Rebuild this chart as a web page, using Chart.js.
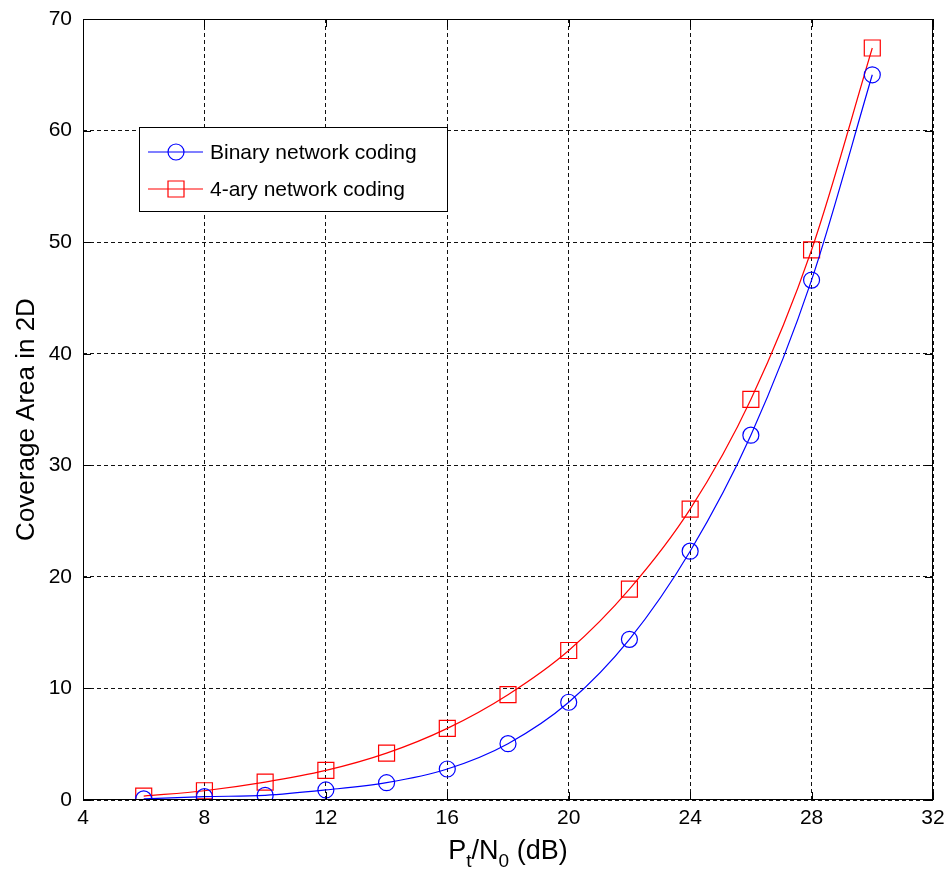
<!DOCTYPE html>
<html>
<head>
<meta charset="utf-8">
<script src="https://cdn.jsdelivr.net/npm/chart.js@4.4.0/dist/chart.umd.min.js"></script>
<style>
  html, body { margin: 0; padding: 0; background: #fff; }
  #wrap { width: 952px; height: 879px; }
</style>
</head>
<body>
<div id="wrap"><canvas id="coverageChart" width="952" height="879"></canvas></div>
<script>
var snrDb = [6, 8, 10, 12, 14, 16, 18, 20, 22, 24, 26, 28, 30];
var binaryArea = [0.1, 0.3, 0.42, 0.9, 1.55, 2.78, 5.05, 8.76, 14.4, 22.3, 32.7, 46.6, 65.0];
var quaternaryArea = [0.35, 0.83, 1.6, 2.65, 4.2, 6.42, 9.44, 13.4, 18.9, 26.07, 35.9, 49.3, 67.4];
var seriesNames = ['Binary network coding', '4-ary network coding'];
var xTicks = [4, 8, 12, 16, 20, 24, 28, 32];
var yTicks = [0, 10, 20, 30, 40, 50, 60, 70];
var yTitle = 'Coverage Area in 2D';

var FONT = '"Liberation Sans", Arial, sans-serif';

function toPoints(values) {
  return snrDb.map(function(x, i) { return { x: x, y: values[i] }; });
}

// frame, inward ticks, legend box and both axis titles
var matlabAxes = {
  id: 'matlabAxes',
  afterDraw: function(chart) {
    var ctx = chart.ctx;
    var a = chart.chartArea;
    var xs = chart.scales.x, ys = chart.scales.y;
    ctx.save();
    ctx.strokeStyle = '#000';
    ctx.lineWidth = 1;
    ctx.setLineDash([]);
    ctx.strokeRect(a.left + 0.5, a.top + 0.5, a.right - a.left - 1, a.bottom - a.top - 1);

    ctx.beginPath();
    xTicks.forEach(function(v) {
      var px = Math.round(xs.getPixelForValue(v)) + 0.5;
      ctx.moveTo(px, a.bottom); ctx.lineTo(px, a.bottom - 8);
      ctx.moveTo(px, a.top); ctx.lineTo(px, a.top + 8);
    });
    yTicks.forEach(function(v) {
      var py = Math.round(ys.getPixelForValue(v)) + 0.5;
      ctx.moveTo(a.left, py); ctx.lineTo(a.left + 8, py);
      ctx.moveTo(a.right, py); ctx.lineTo(a.right - 8, py);
    });
    ctx.stroke();

    // legend
    var lx = 139, ly = 127, lw = 308, lh = 84;
    ctx.fillStyle = '#fff';
    ctx.fillRect(lx, ly, lw, lh);
    ctx.strokeStyle = '#000';
    ctx.strokeRect(lx + 0.5, ly + 0.5, lw, lh);
    var rows = [
      { y: 152, color: '#0000ff', marker: 'circle' },
      { y: 189, color: '#ff0000', marker: 'square' }
    ];
    ctx.font = '21px ' + FONT;
    ctx.textBaseline = 'middle';
    ctx.textAlign = 'left';
    rows.forEach(function(r, i) {
      ctx.strokeStyle = r.color;
      ctx.lineWidth = 1.2;
      ctx.beginPath();
      ctx.moveTo(148, r.y); ctx.lineTo(203, r.y);
      ctx.stroke();
      ctx.beginPath();
      if (r.marker === 'circle') {
        ctx.arc(176, r.y, 8, 0, Math.PI * 2);
      } else {
        ctx.rect(168, r.y - 8, 16, 16);
      }
      ctx.stroke();
      ctx.fillStyle = '#000';
      ctx.fillText(seriesNames[i], 210, r.y + 1);
    });

    // y axis title
    ctx.save();
    ctx.translate(27, (a.top + a.bottom) / 2 + 10);
    ctx.rotate(-Math.PI / 2);
    ctx.textAlign = 'center';
    ctx.textBaseline = 'middle';
    ctx.font = '26px ' + FONT;
    ctx.fillStyle = '#000';
    ctx.fillText(yTitle, 0, 0);
    ctx.restore();

    // x axis title: P_t/N_0 (dB)
    var cx = (a.left + a.right) / 2, by = 859;
    var big = '27px ' + FONT, small = '19px ' + FONT;
    var parts = [
      { t: 'P', f: big, dy: 0 },
      { t: 't', f: small, dy: 8 },
      { t: '/N', f: big, dy: 0 },
      { t: '0', f: small, dy: 8 },
      { t: ' (dB)', f: big, dy: 0 }
    ];
    var total = 0;
    parts.forEach(function(p) { ctx.font = p.f; p.w = ctx.measureText(p.t).width; total += p.w; });
    var px = cx - total / 2;
    ctx.fillStyle = '#000';
    ctx.textAlign = 'left';
    ctx.textBaseline = 'alphabetic';
    parts.forEach(function(p) {
      ctx.font = p.f;
      ctx.fillText(p.t, px, by + p.dy);
      px += p.w;
    });
    ctx.restore();
  }
};

var ctx = document.getElementById('coverageChart');
new Chart(ctx, {
  type: 'line',
  data: {
    datasets: [{
      label: seriesNames[0],
      data: toPoints(binaryArea),
      borderColor: '#0000ff',
      borderWidth: 1.2,
      pointStyle: 'circle',
      pointRadius: 8,
      pointBorderWidth: 1.2,
      pointBorderColor: '#0000ff',
      pointBackgroundColor: 'rgba(0,0,0,0)',
      cubicInterpolationMode: 'monotone',
      fill: false
    }, {
      label: seriesNames[1],
      data: toPoints(quaternaryArea),
      borderColor: '#ff0000',
      borderWidth: 1.2,
      pointStyle: 'rect',
      pointRadius: 11.3,
      pointBorderWidth: 1.2,
      pointBorderColor: '#ff0000',
      pointBackgroundColor: 'rgba(0,0,0,0)',
      cubicInterpolationMode: 'monotone',
      fill: false
    }]
  },
  options: {
    responsive: false,
    animation: false,
    layout: { padding: { top: 19, right: 19, left: 0, bottom: 0 } },
    plugins: {
      legend: { display: false },
      tooltip: { enabled: false }
    },
    scales: {
      x: {
        type: 'linear',
        min: 4,
        max: 32,
        afterFit: function(scale) {
          scale.height = 79;
          scale.paddingLeft = 0;
          scale.paddingRight = 0;
        },
        afterBuildTicks: function(scale) {
          scale.ticks = xTicks.map(function(v) { return { value: v }; });
        },
        ticks: {
          color: '#000',
          font: { family: FONT, size: 21 },
          padding: 6,
          maxRotation: 0
        },
        grid: {
          color: '#111',
          lineWidth: 1,
          drawTicks: false
        },
        border: { display: false, dash: [4, 3] }
      },
      y: {
        type: 'linear',
        min: 0,
        max: 70,
        afterFit: function(scale) {
          scale.width = 83;
          scale.paddingTop = 0;
          scale.paddingBottom = 0;
        },
        afterBuildTicks: function(scale) {
          scale.ticks = yTicks.map(function(v) { return { value: v }; });
        },
        ticks: {
          color: '#000',
          font: { family: FONT, size: 21 },
          padding: 11
        },
        grid: {
          color: '#111',
          lineWidth: 1,
          drawTicks: false
        },
        border: { display: false, dash: [4, 3] }
      }
    }
  },
  plugins: [matlabAxes]
});
</script>
</body>
</html>
